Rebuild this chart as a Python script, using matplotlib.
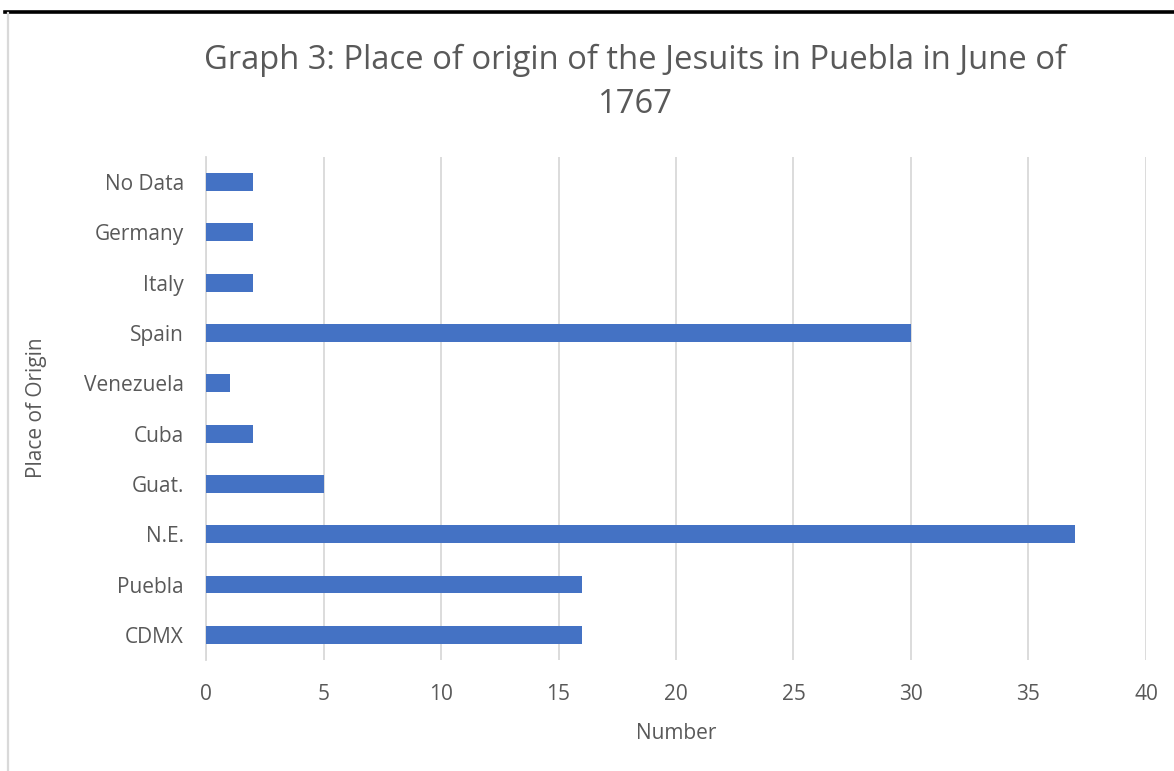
import matplotlib.pyplot as plt
from matplotlib.lines import Line2D

plt.rcParams['font.family'] = ['Open Sans', 'DejaVu Sans']

places = ['CDMX', 'Puebla', 'N.E.', 'Guat.', 'Cuba', 'Venezuela', 'Spain',
          'Italy', 'Germany', 'No Data']
counts = [16, 16, 37, 5, 2, 1, 30, 2, 2, 2]
x_ticks = [0, 5, 10, 15, 20, 25, 30, 35, 40]

text_color = '#595959'
bar_color = '#4472C4'
grid_color = '#D9D9D9'

fig = plt.figure(figsize=(11.74, 7.71), dpi=100)
ax = fig.add_axes([0.1755, 0.144, 0.8006, 0.6524])

ax.barh(range(len(places)), counts, height=0.355, color=bar_color, zorder=3)

ax.set_xlim(0, 40)
ax.set_ylim(-0.5, len(places) - 0.5)
ax.set_xticks(x_ticks)
ax.set_yticks(range(len(places)))
ax.set_yticklabels(places)
ax.tick_params(axis='both', length=0, colors=text_color, labelsize=15)
ax.tick_params(axis='x', pad=17)
ax.tick_params(axis='y', pad=16)

ax.grid(axis='x', color=grid_color, linewidth=1.3, zorder=0)
for side in ['top', 'right', 'bottom']:
    ax.spines[side].set_visible(False)
ax.spines['left'].set_color(grid_color)
ax.spines['left'].set_linewidth(1.3)

ax.set_xlabel('Number', color=text_color, fontsize=15, labelpad=13)
fig.text(0.031, 0.471, 'Place of Origin', rotation=90, color=text_color,
         fontsize=15, ha='center', va='center')

fig.text(0.541, 0.893, 'Graph 3: Place of origin of the Jesuits in Puebla in June of\n1767',
         color=text_color, fontsize=23.6, ha='center', va='center',
         linespacing=1.45)

# frame edges around the chart area
fig.add_artist(Line2D([0.004, 1.0], [0.985, 0.985], color='black',
                      linewidth=2.6, transform=fig.transFigure))
fig.add_artist(Line2D([0.0072, 0.0072], [0.0, 0.983], color=grid_color,
                      linewidth=1.6, transform=fig.transFigure))

fig.savefig('out.png', dpi=100, facecolor='white')
